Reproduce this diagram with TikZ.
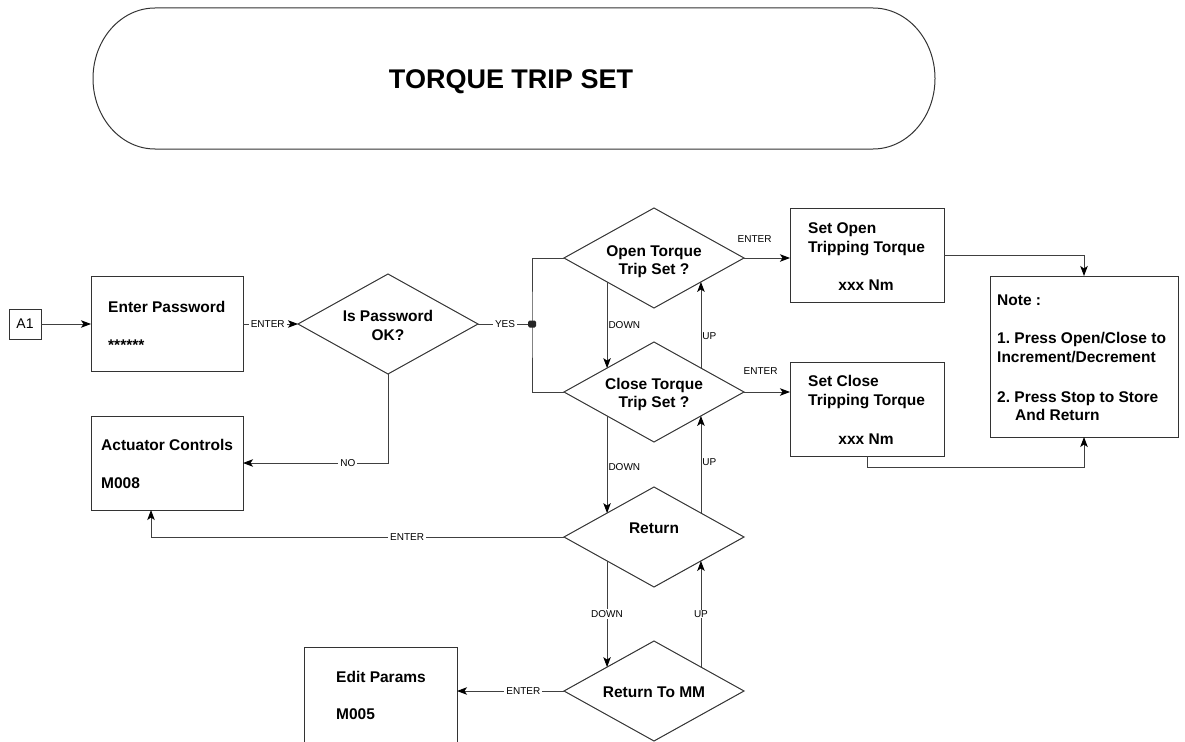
\documentclass[tikz,border=0pt]{standalone}
\usepackage{fontspec}
\setmainfont{Liberation Sans}
\frenchspacing
\usetikzlibrary{shapes.geometric,arrows.meta,calc}
\begin{document}
\begin{tikzpicture}[x=1pt,y=-1pt,
  shp/.style={draw=black!80,line width=1pt,inner sep=0pt,outer sep=0pt},
  box/.style={shp,rectangle},
  dia/.style={shp,diamond,minimum width=180pt,minimum height=100pt},
  bt/.style={inner sep=0pt,anchor=base west,font=\fontsize{15.5}{19}\selectfont\bfseries},
  btc/.style={bt,anchor=base},
  ln/.style={draw=black!75,line width=0.9pt},
  con/.style={ln,-{Stealth[length=10pt,width=7.5pt,inset=2.5pt,fill=black,color=black]}},
  lbl/.style={font=\fontsize{10}{12}\selectfont,fill=white,inner xsep=2pt,inner ysep=1pt},
  lbs/.style={font=\fontsize{10}{12}\selectfont,inner sep=1pt},
  lbt/.style={font=\fontsize{10}{12}\selectfont,inner sep=0pt}
]
\useasboundingbox (0,0) rectangle (1185,741);

% title
\draw[shp] (155,8) -- (873,8) arc[start angle=-90,end angle=90,x radius=62,y radius=70.5]
  -- (155,149) arc[start angle=90,end angle=270,x radius=62,y radius=70.5] -- cycle;
\node[btc,font=\fontsize{27}{30}\selectfont\bfseries] (title) at (511,89) {TORQUE TRIP SET};

% boxes
\node[box,minimum width=32pt,minimum height=30pt,font=\fontsize{14}{16}\selectfont] (a1) at (25,324) {A1};
\node[box,minimum width=152pt,minimum height=95pt] (ep) at (167,324) {};
\node[box,minimum width=152pt,minimum height=94pt] (act) at (167,463) {};
\node[box,minimum width=154pt,minimum height=94pt] (so) at (867,255) {};
\node[box,minimum width=154pt,minimum height=94pt] (sc) at (867,409) {};
\node[box,minimum width=188pt,minimum height=161pt] (note) at (1084,356.5) {};
\node[box,minimum width=153pt,minimum height=95pt] (edit) at (380.5,694.5) {};

% diamonds
\node[dia] (pw) at (388,324) {};
\node[dia] (open) at (654,258) {};
\node[dia] (close) at (654,392) {};
\node[dia] (ret) at (654,537) {};
\node[dia] (rtmm) at (654,691) {};

% texts
\node[bt] (ep1) at (108,312) {Enter Password};
\node[bt] (ep2) at (108,350) {******};
\node[bt] (act1) at (101,450) {Actuator Controls};
\node[bt] (act2) at (101,488) {M008};
\node[bt] (ed1) at (336,682) {Edit Params};
\node[bt] (ed2) at (336,719) {M005};
\node[bt] (so1) at (808,233) {Set Open};
\node[bt] (so2) at (808,252) {Tripping Torque};
\node[btc] (so3) at (866,290) {xxx Nm};
\node[bt] (sc1) at (808,386) {Set Close};
\node[bt] (sc2) at (808,405) {Tripping Torque};
\node[btc] (sc3) at (866,444) {xxx Nm};
\node[bt] (n1) at (997,305) {Note :};
\node[bt] (n2) at (997,343) {1. Press Open/Close to};
\node[bt] (n3) at (997,362) {Increment/Decrement};
\node[bt] (n4) at (997,402) {2. Press Stop to Store};
\node[bt] (n5) at (1015,420) {And Return};
\node[btc] (pw1) at (388,321) {Is Password};
\node[btc] (pw2) at (388,340) {OK?};
\node[btc] (op1) at (654,256) {Open Torque};
\node[btc] (op2) at (654,274) {Trip Set ?};
\node[btc] (cl1) at (654,389) {Close Torque};
\node[btc] (cl2) at (654,407) {Trip Set ?};
\node[btc] (re1) at (654,533) {Return};
\node[btc] (rm1) at (654,697) {Return To MM};

% connectors
\draw[con] (a1.east) -- (ep.west);
\draw[con] (ep.east) -- node[lbl,pos=0.45] {ENTER} (pw.west);
\draw[ln] (pw.east) -- node[lbl] {YES} (532,324) coordinate (jc);
\draw[ln] (open.west) -| (jc) |- (close.west);
\node[fill=black!85,minimum width=8pt,minimum height=7pt,inner sep=0pt,rounded corners=1.5pt] (j) at (jc) {};
\draw[con] (pw.south) |- node[lbl,pos=0.638] {NO} (act.east);
\draw[con] (open.east) -- node[lbt,pos=0.23,above=15pt] {ENTER} (open.east -| so.west);
\draw[con] (close.east) -- node[lbt,pos=0.36,above=17pt] {ENTER} (close.east -| sc.west);
\draw[con] (open.207) -- node[lbs,right] {DOWN} (close.153);
\draw[con] (close.27) -- node[lbs,right,pos=0.37] {UP} (open.-27);
\draw[con] (close.207) -- node[lbs,right,pos=0.53] {DOWN} (ret.153);
\draw[con] (ret.27) -- node[lbs,right,pos=0.52] {UP} (close.-27);
\draw[con] (ret.207) -- node[lbl] {DOWN} (rtmm.153);
\draw[con] (rtmm.27) -- node[lbl] {UP} (ret.-27);
\draw[con] (ret.west) -| node[lbl,pos=0.19] {ENTER} ([xshift=-16pt]act.south);
\draw[con] (rtmm.west) -- node[lbl,pos=0.38] {ENTER} (rtmm.west -| edit.east);
\draw[con] (so.east) -| (note.north);
\draw[con] (sc.south) -- ++(0,11) -| (note.south);
\end{tikzpicture}
\end{document}
